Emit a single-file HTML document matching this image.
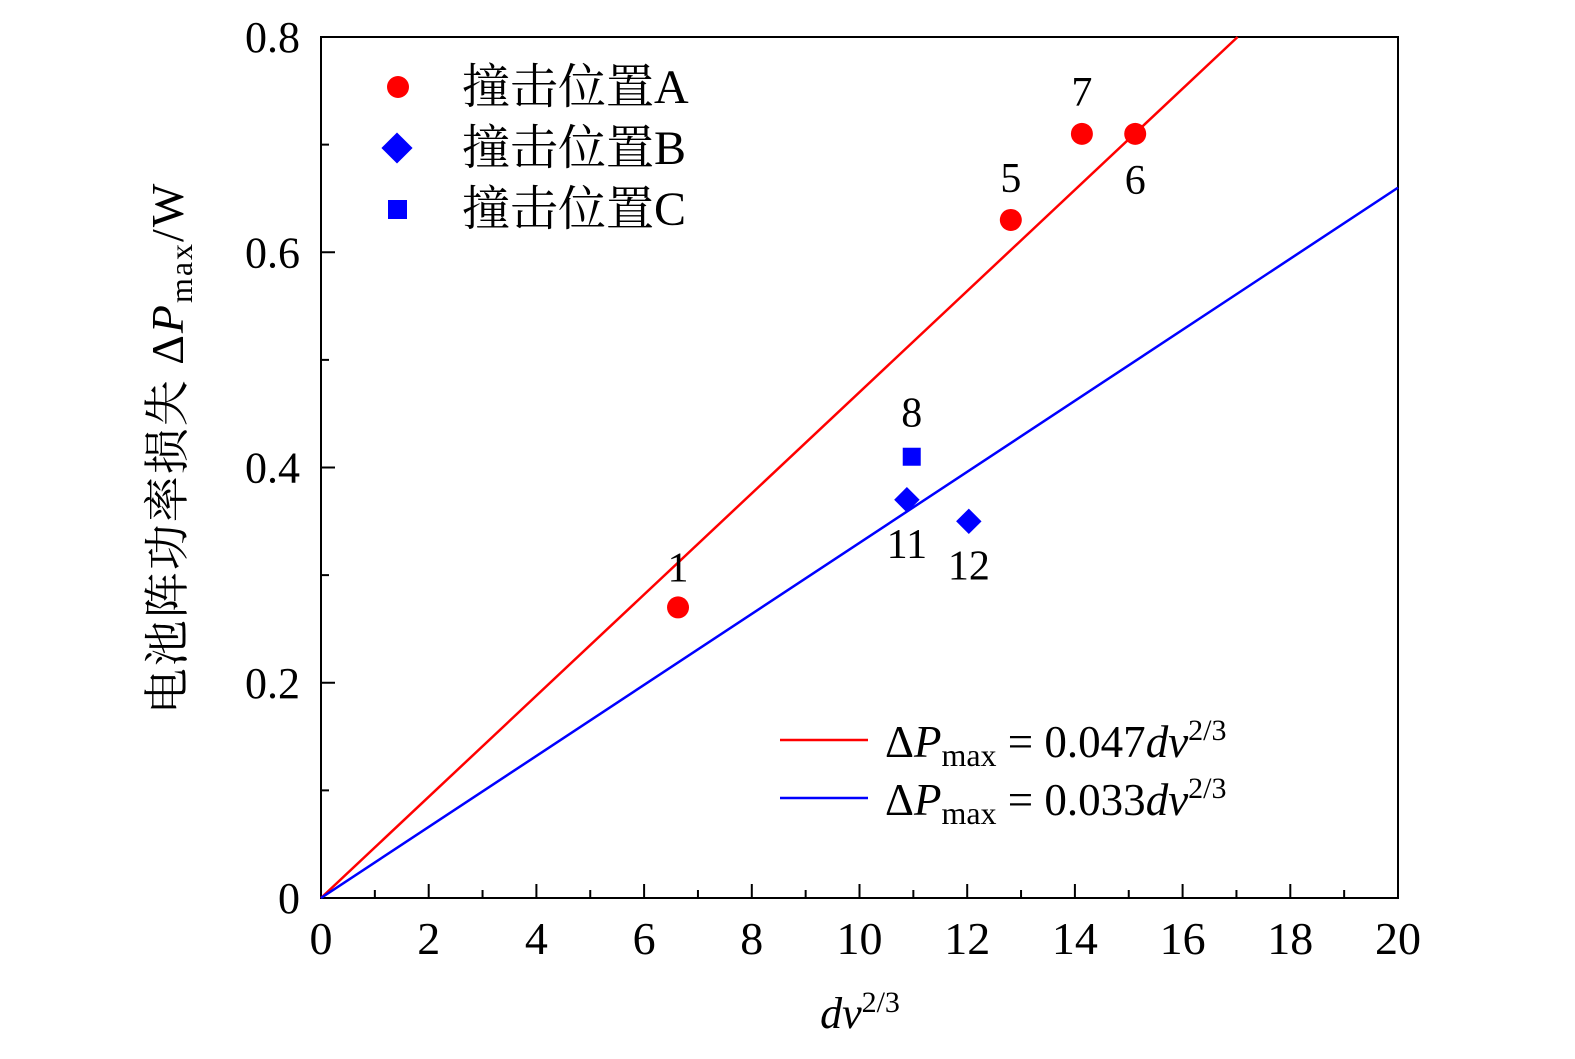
<!DOCTYPE html>
<html><head><meta charset="utf-8"><style>
html,body{margin:0;padding:0;background:#fff;}
svg{display:block;}
text{font-family:"Liberation Serif","Noto Serif CJK SC",serif;fill:#000;}
</style></head><body>
<svg id="chart" width="1575" height="1059" xmlns="http://www.w3.org/2000/svg">
<rect x="321" y="37" width="1077" height="861" fill="none" stroke="#000" stroke-width="2"/>
<g id="ticks"></g>
<g id="lines"></g>
<g id="marks"></g>
<text x="860" y="1028" font-size="44" text-anchor="middle"><tspan font-style="italic">dv</tspan><tspan font-size="30" dy="-16">2/3</tspan></text>
<text transform="translate(183,448) rotate(-90)" font-size="46" text-anchor="middle" letter-spacing="2">电池阵功率损失 Δ<tspan font-style="italic">P</tspan><tspan font-size="32" dy="9">max</tspan><tspan dy="-9">/W</tspan></text>
<g>
<circle cx="398" cy="87" r="11" fill="#f00"/>
<text x="462" y="103" font-size="48">撞击位置A</text>
<rect x="386" y="137" width="22" height="22" fill="#00f" transform="rotate(45 397 148)"/>
<text x="462" y="164" font-size="48">撞击位置B</text>
<rect x="388" y="200" width="19" height="19" fill="#00f"/>
<text x="462" y="225" font-size="48">撞击位置C</text>
</g>
<g>
<line x1="780" y1="740" x2="868" y2="740" stroke="#f00" stroke-width="2.5"/>
<text x="885" y="757" font-size="45">Δ<tspan font-style="italic">P</tspan><tspan font-size="32" dy="9">max</tspan><tspan dy="-9"> = 0.047</tspan><tspan font-style="italic">dv</tspan><tspan font-size="30" dy="-17">2/3</tspan></text>
<line x1="780" y1="798" x2="868" y2="798" stroke="#00f" stroke-width="2.5"/>
<text x="885" y="815" font-size="45">Δ<tspan font-style="italic">P</tspan><tspan font-size="32" dy="9">max</tspan><tspan dy="-9"> = 0.033</tspan><tspan font-style="italic">dv</tspan><tspan font-size="30" dy="-17">2/3</tspan></text>
</g>
</svg>
<script>
const xTicks=[0,2,4,6,8,10,12,14,16,18,20];
const yTicks=[0,0.2,0.4,0.6,0.8];
const yTickLabels=["0","0.2","0.4","0.6","0.8"];
const seriesAx=[6.63,12.81,14.13,15.12];
const seriesAy=[0.27,0.63,0.71,0.71];
const seriesAlabels=["1","5","7","6"];
const seriesBx=[10.88,12.03];
const seriesBy=[0.37,0.35];
const seriesBlabels=["11","12"];
const seriesCx=[10.97];
const seriesCy=[0.41];
const seriesClabels=["8"];
const slopes=[0.047,0.033];
const X0=321,X1=1398,Y0=898,Y1=37;
const sx=v=>X0+(v/20)*(X1-X0);
const sy=v=>Y0-(v/0.8)*(Y0-Y1);
const NS="http://www.w3.org/2000/svg";
function mk(tag,attrs,parent,txt){const e=document.createElementNS(NS,tag);for(const k in attrs)e.setAttribute(k,attrs[k]);if(txt!==undefined)e.textContent=txt;parent.appendChild(e);return e;}
const tg=document.getElementById('ticks');
for(let i=0;i<=20;i++){const x=sx(i);const len=i%2===0?14:8;
 const t=mk('line',{x1:x,y1:Y0,x2:x,y2:Y0-len,stroke:'#000','stroke-width':2},tg);
 
 }
xTicks.forEach(v=>{const t=mk('text',{x:sx(v),y:954,'font-size':46,'text-anchor':'middle'},tg,String(v));
 
 });
for(let i=0;i<=8;i++){const y=sy(i/10);const len=i%2===0?14:8;
 const t=mk('line',{x1:X0,y1:y,x2:X0+len,y2:y,stroke:'#000','stroke-width':2},tg);
 
 }
yTicks.forEach((v,i)=>{const t=mk('text',{x:300,y:sy(v)+15,'font-size':44,'text-anchor':'end'},tg,yTickLabels[i]);
 
 });
const lg=document.getElementById('lines');
const colors=['#f00','#00f'];
slopes.forEach((s,i)=>{let xe=Math.min(20,0.8/s);
 const l=mk('line',{x1:sx(0),y1:sy(0),x2:sx(xe),y2:sy(s*xe),stroke:colors[i],'stroke-width':2.5},lg);
 
 });
const mg=document.getElementById('marks');
const labOffA=[[0,-26],[0,-28],[0,-28],[0,60]];
seriesAx.forEach((x,i)=>{const c=mk('circle',{cx:sx(x),cy:sy(seriesAy[i]),r:11,fill:'#f00'},mg);
 
 
 const t=mk('text',{x:sx(x)+labOffA[i][0],y:sy(seriesAy[i])+labOffA[i][1],'font-size':42,'text-anchor':'middle'},mg,seriesAlabels[i]);
 
 });
const labOffB=[[0,58],[0,58]];
seriesBx.forEach((x,i)=>{const cx=sx(x),cy=sy(seriesBy[i]);
 const r=mk('rect',{x:cx-9,y:cy-9,width:18,height:18,fill:'#00f',transform:`rotate(45 ${cx} ${cy})`},mg);
 
 
 const t=mk('text',{x:cx+labOffB[i][0],y:cy+labOffB[i][1],'font-size':42,'text-anchor':'middle'},mg,seriesBlabels[i]);
 
 });
seriesCx.forEach((x,i)=>{const cx=sx(x),cy=sy(seriesCy[i]);
 const r=mk('rect',{x:cx-9,y:cy-9,width:18,height:18,fill:'#00f'},mg);
 
 
 const t=mk('text',{x:cx,y:cy-30,'font-size':42,'text-anchor':'middle'},mg,seriesClabels[i]);
 
 });
</script>
</body></html>
